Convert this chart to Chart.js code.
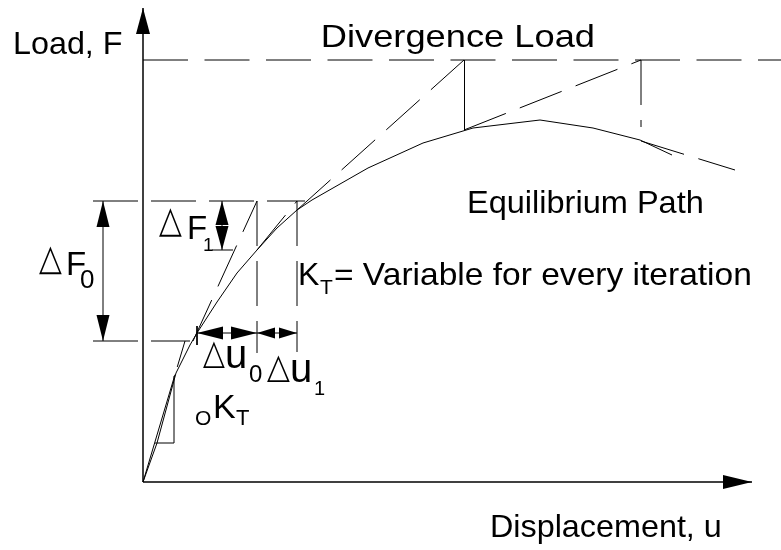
<!DOCTYPE html>
<html>
<head>
<meta charset="utf-8">
<script src="https://cdn.jsdelivr.net/npm/chart.js@4.4.1/dist/chart.umd.min.js"></script>
<style>
body { margin: 0; background: #fff; }
#wrap { width: 781px; height: 550px; }
</style>
</head>
<body>
<div id="wrap"><canvas id="loadPath"></canvas></div>
<script>
// equilibrium path: displacement u, load F
var pathU = [0, 1.4, 3.3, 4.7, 5.4, 7.4, 9.4, 11.4, 13.4, 15.4, 16.9, 19.7, 22.5, 28.0, 33.0, 39.7, 45.0, 49.7, 52.9];
var pathF = [0, 3.9, 10.9, 13.7, 14.9, 18.0, 20.9, 23.2, 25.4, 27.2, 28.2, 29.8, 31.4, 33.9, 35.4, 36.2, 35.4, 34.2, 32.7];

var divergenceLoad = 42.2;
var loadLevels = [14.1, 28.1];   // F before and after the increment dF0

// tangent stiffness lines (start, end)
var tangentU = [[0, 4.2], [5.0, 11.4], [11.4, 15.4], [15.4, 32.1], [32.1, 49.8], [49.8, 59.2]];
var tangentF = [[0, 14.1], [14.1, 28.1], [23.2, 28.1], [27.2, 42.2], [35.2, 42.2], [34.1, 31.2]];

// vertical drops back to the path
var dropU = [11.4, 15.4, 32.15, 49.8];
var dropTop = [28.1, 28.1, 42.2, 42.2];
var dropBottom = [12.9, 13.0, 35.2, 35.5];

// slope triangle for 0KT
var triU = [1.2, 3.1, 3.1];
var triF = [3.9, 3.9, 10.6];

// dimension marks
var dimF0U = -4.0;
var dimF1U = 7.9;
var dimUF = 14.9;
var dimU0 = [5.4, 11.4];
var dimU1 = [11.4, 15.4];

var axisMaxU = 60.9;
var axisMaxF = 47.4;

function seg(u, f) {
    var pts = [];
    for (var i in u) pts.push({ x: u[i], y: f[i] });
    return pts;
}

var datasets = [];
function addLine(pts, dash, width) {
    datasets.push({
        data: pts,
        borderColor: '#000',
        borderWidth: width || 1,
        borderDash: dash || [],
        pointRadius: 0,
        fill: false,
        tension: 0,
        clip: false
    });
    return datasets.length - 1;
}

var heads = [];
var dsAxisX = addLine(seg([0, axisMaxU], [0, 0]), [], 1.5);
var dsAxisY = addLine(seg([0, 0], [0, axisMaxF]), [], 1.5);
heads.push({ ds: dsAxisX, end: 'end', len: 29, half: 7 });
heads.push({ ds: dsAxisY, end: 'end', len: 26, half: 7 });

addLine(seg([0, 63.8], [divergenceLoad, divergenceLoad]), [45, 16.5]);
addLine(seg(pathU, pathF), [], 1);

for (var i = 0; i < tangentU.length; i++) {
    addLine(seg(tangentU[i], tangentF[i]), i === 0 ? [112, 8] : [45, 15]);
}
for (var j = 0; j < dropU.length; j++) {
    addLine(seg([dropU[j], dropU[j]], [dropTop[j], dropBottom[j]]), j === 2 ? [] : [45, 15]);
}
addLine(seg(triU, triF), []);

// extension lines of the load increments
addLine(seg([-5.0, 16.2], [loadLevels[1], loadLevels[1]]), [45, 13]);
addLine(seg([-5.0, 4.7], [loadLevels[0], loadLevels[0]]), [45, 13]);
addLine(seg([6.9, 9.0], [23.2, 23.2]), []);
addLine(seg([5.4, 5.4], [15.6, 13.7]), []);

var dsF0 = addLine(seg([dimF0U, dimF0U], loadLevels), []);
var dsF1 = addLine(seg([dimF1U, dimF1U], [23.2, 28.1]), []);
var dsU0 = addLine(seg(dimU0, [dimUF, dimUF]), []);
var dsU1 = addLine(seg(dimU1, [dimUF, dimUF]), []);
heads.push({ ds: dsF0, end: 'start', len: 26, half: 6.5 }, { ds: dsF0, end: 'end', len: 26, half: 6.5 });
heads.push({ ds: dsF1, end: 'start', len: 24, half: 6.5 }, { ds: dsF1, end: 'end', len: 24, half: 6.5 });
heads.push({ ds: dsU0, end: 'start', len: 26, half: 6.5 }, { ds: dsU0, end: 'end', len: 26, half: 6.5 });
heads.push({ ds: dsU1, end: 'start', len: 18, half: 5.5 }, { ds: dsU1, end: 'end', len: 18, half: 5.5 });

var sans = '"Liberation Sans", Arial, sans-serif';
var tri = '"DejaVu Sans", sans-serif';
var labels = [
    { t: 'Load, F', x: 15, y: 54, size: 32, w: 107 },
    { t: 'Divergence Load', x: 323, y: 47, size: 32, w: 270 },
    { t: 'Equilibrium Path', x: 469, y: 213, size: 32, w: 233 },
    { t: 'Displacement, u', x: 492, y: 537, size: 32, w: 228 },
    { t: 'K', x: 300, y: 285, size: 32 },
    { t: 'T', x: 320, y: 294, size: 21 },
    { t: '= Variable for every iteration', x: 335, y: 285, size: 32, w: 415 },
    { t: '\u25B3', box: [39, 247, 62, 275], family: tri },
    { t: 'F', x: 68, y: 275, size: 33 },
    { t: '0', x: 81, y: 288, size: 26 },
    { t: '\u25B3', box: [159, 208, 182, 237], family: tri },
    { t: 'F', x: 189, y: 239, size: 33 },
    { t: '1', x: 204, y: 251, size: 19 },
    { t: '\u25B3', box: [203, 341, 225, 368], family: tri },
    { t: 'u', x: 227, y: 368, size: 40 },
    { t: '0', x: 249, y: 382, size: 24 },
    { t: '\u25B3', box: [267, 355, 290, 382], family: tri },
    { t: 'u', x: 292, y: 382, size: 40 },
    { t: '1', x: 315, y: 395, size: 20 },
    { t: 'O', x: 196, y: 425, size: 21 },
    { t: 'K', x: 215, y: 418, size: 34 },
    { t: 'T', x: 236, y: 425, size: 22 }
];

var sketchPlugin = {
    id: 'sketch',
    afterDatasetsDraw: function (chart) {
        var ctx = chart.ctx;
        ctx.save();
        ctx.fillStyle = '#000';
        heads.forEach(function (h) {
            var pts = chart.getDatasetMeta(h.ds).data;
            var tip = h.end === 'end' ? pts[pts.length - 1] : pts[0];
            var from = h.end === 'end' ? pts[pts.length - 2] : pts[1];
            var dx = tip.x - from.x, dy = tip.y - from.y;
            var d = Math.sqrt(dx * dx + dy * dy);
            dx /= d; dy /= d;
            var bx = tip.x - dx * h.len, by = tip.y - dy * h.len;
            ctx.beginPath();
            ctx.moveTo(tip.x, tip.y);
            ctx.lineTo(bx - dy * h.half, by + dx * h.half);
            ctx.lineTo(bx + dy * h.half, by - dx * h.half);
            ctx.closePath();
            ctx.fill();
        });
        labels.forEach(function (l) {
            ctx.save();
            ctx.font = (l.size || 40) + 'px ' + (l.family || sans);
            ctx.textAlign = 'left';
            ctx.textBaseline = 'alphabetic';
            var m = ctx.measureText(l.t);
            var iw = m.actualBoundingBoxLeft + m.actualBoundingBoxRight;
            if (l.box) {
                var ih = m.actualBoundingBoxAscent + m.actualBoundingBoxDescent;
                ctx.translate(l.box[0], l.box[1]);
                ctx.scale((l.box[2] - l.box[0]) / iw, (l.box[3] - l.box[1]) / ih);
                ctx.fillText(l.t, m.actualBoundingBoxLeft, m.actualBoundingBoxAscent);
            } else {
                ctx.translate(l.x, l.y);
                ctx.scale(l.w ? l.w / iw : 1, 1);
                ctx.fillText(l.t, m.actualBoundingBoxLeft, 0);
            }
            ctx.restore();
        });
        ctx.restore();
    }
};

new Chart(document.getElementById('loadPath'), {
    type: 'line',
    data: { datasets: datasets },
    plugins: [sketchPlugin],
    options: {
        responsive: true,
        maintainAspectRatio: false,
        animation: false,
        layout: { padding: { left: 143, right: 29, top: 8, bottom: 68 } },
        plugins: { legend: { display: false }, tooltip: { enabled: false } },
        scales: {
            x: { type: 'linear', min: 0, max: axisMaxU, display: false },
            y: { type: 'linear', min: 0, max: axisMaxF, display: false }
        }
    }
});
</script>
</body>
</html>
